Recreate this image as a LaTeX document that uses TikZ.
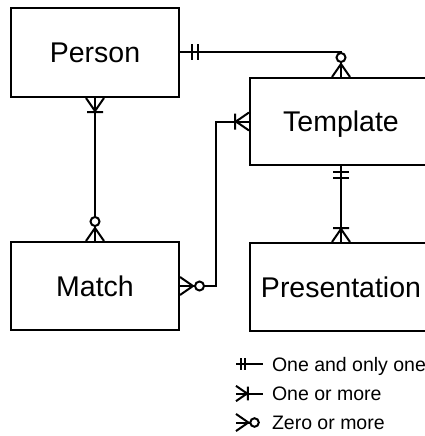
\documentclass[tikz,border=0pt]{standalone}
\usepackage{fontspec}
\setmainfont{Liberation Sans}

\tikzset{
  entity/.style={draw, font=\fontsize{28.5}{30}\selectfont, text height=20.4pt, text depth=0pt, inner sep=0pt},
  key text/.style={anchor=west, font=\fontsize{19.5}{21}\selectfont, text height=14pt, text depth=0pt, inner sep=0pt},
  pics/onlyone/.style={code={\draw (#1,-8) -- (#1,8) (#1+6,-8) -- (#1+6,8);}},
  pics/onemany/.style={code={\draw (0,9) -- (13,0) -- (0,-9) (14,-8) -- (14,8);}},
  pics/zeromany/.style={code={\draw (0,9) -- (13,0) -- (0,-9); \draw[fill=white] (19.5,0) circle (4.5pt);}}
}

\begin{document}
\begin{tikzpicture}[x=1pt,y=-1pt,line width=2pt]
\useasboundingbox (0,0) rectangle (425,436);
%%%%% entities
\node[entity, minimum width=168pt, minimum height=89pt] (person) at (95,52.5) {Person};
\node[entity, minimum width=168pt, minimum height=88pt] (match) at (95,286) {Match};
\node[entity, minimum width=182pt, minimum height=87pt] (template) at (341,121.5) {Template};
\node[entity, minimum width=182pt, minimum height=88pt] (presentation) at (341,287) {Presentation};
%%%%% relations
\draw (person.east) -| (template.north);
\draw (person.south) -- (match.north);
\draw (match.east) -- ++(36,0) |- (template.west);
\draw (template.south) -- (presentation.north);
%%%%% ends
\pic at (person.east) {onlyone=12};
\pic[rotate=90] at (template.north) {zeromany};
\pic[rotate=-90] at (person.south) {onemany};
\pic[rotate=90] at (match.north) {zeromany};
\pic at (match.east) {zeromany};
\pic[rotate=180] at (template.west) {onemany};
\pic[rotate=-90] at (template.south) {onlyone=6};
\pic[rotate=90] at (presentation.north) {onemany};
%%%%% key
\coordinate (k1l) at (236,364);  \coordinate (k1r) at (263,364);
\coordinate (k2l) at (236,393.5);  \coordinate (k2r) at (263,393.5);
\coordinate (k3l) at (236,422.5);  \coordinate (k3r) at (250,422.5);
\draw (k1l) -- (k1r);
\draw (k2l) -- (k2r);
\draw (k3l) -- (k3r);
\pic[scale=0.7] at (k1l) {onlyone=7};
\pic[scale=0.85] at (k2l) {onemany};
\pic[scale=0.95] at (k3l) {zeromany};
\node[key text] (one) at (271,364) {One and only one};
\node[key text] (more) at (271,393.5) {One or more};
\node[key text] (zero) at (271,422.5) {Zero or more};
\end{tikzpicture}
\end{document}
